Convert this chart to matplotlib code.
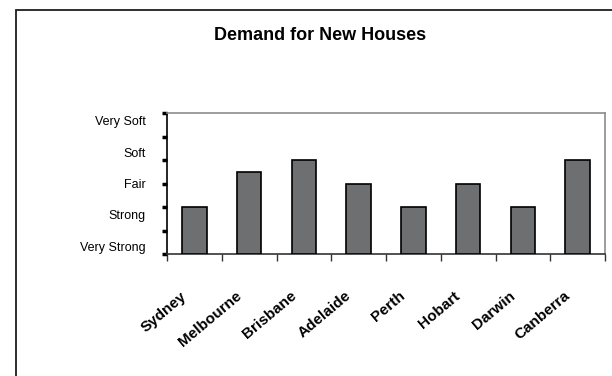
import numpy as np
import matplotlib
matplotlib.use('Agg')
import matplotlib.pyplot as plt
from matplotlib.patches import Rectangle
from matplotlib.transforms import ScaledTranslation

plt.rcParams['font.family'] = ['Liberation Sans', 'DejaVu Sans']

cities = ['Sydney', 'Melbourne', 'Brisbane', 'Adelaide', 'Perth', 'Hobart', 'Darwin', 'Canberra']
demand = [2, 3.5, 4, 3, 2, 3, 2, 4]
levels = ['Very Strong', 'Strong', 'Fair', 'Soft', 'Very Soft']

fig = plt.figure(figsize=(6.12, 3.76), dpi=100)

# chart frame (only top/left edges fall inside the image)
fig.patches.append(Rectangle((16 / 612, -0.1), 1.2, 1 - 10 / 376 + 0.1,
                             transform=fig.transFigure, fill=False,
                             edgecolor='#1e1e1e', lw=1.3))

ax = fig.add_axes([167 / 612, 1 - 254 / 376, (605 - 167) / 612, (254 - 113) / 376])
x = np.arange(len(cities))
ax.bar(x, demand, width=0.45, color='#6e6f71', edgecolor='black', linewidth=1.2, zorder=3)

ax.set_xlim(-0.5, len(cities) - 0.5)
ax.set_ylim(0, 6)

ax.set_yticks(np.arange(0, 7))
ax.set_yticklabels([])
ax.tick_params(axis='y', direction='out', length=3.5, width=2.5, color='black')

ax.set_xticks(np.arange(-0.5, len(cities)), minor=True)
ax.tick_params(axis='x', which='minor', direction='out', length=5, width=1, color='#333333')
ax.set_xticks(x)
ax.set_xticklabels(cities, rotation=40, ha='right', va='center',
                   rotation_mode='anchor', fontsize=11, fontweight='bold')
ax.tick_params(axis='x', which='major', length=0, pad=29)
shift = ScaledTranslation(-7 / 72, 0, fig.dpi_scale_trans)
for lbl in ax.get_xticklabels():
    lbl.set_transform(lbl.get_transform() + shift)

# rating names down the left side
for yp, name in zip(np.linspace(0.27, 5.6, len(levels)), levels):
    ax.text(-0.048, yp, name, transform=ax.get_yaxis_transform(),
            ha='right', va='center', fontsize=9)

ax.spines['left'].set_color('black')
ax.spines['bottom'].set_color('#333333')
ax.spines['top'].set_color('#8c8c8c')
ax.spines['right'].set_color('#8c8c8c')
for s in ax.spines.values():
    s.set_linewidth(1.2)

fig.text(320 / 612, 1 - 35 / 376, 'Demand for New Houses', ha='center', va='center',
         fontsize=13, fontweight='bold')

fig.savefig('out.png', dpi=100, facecolor='white')
